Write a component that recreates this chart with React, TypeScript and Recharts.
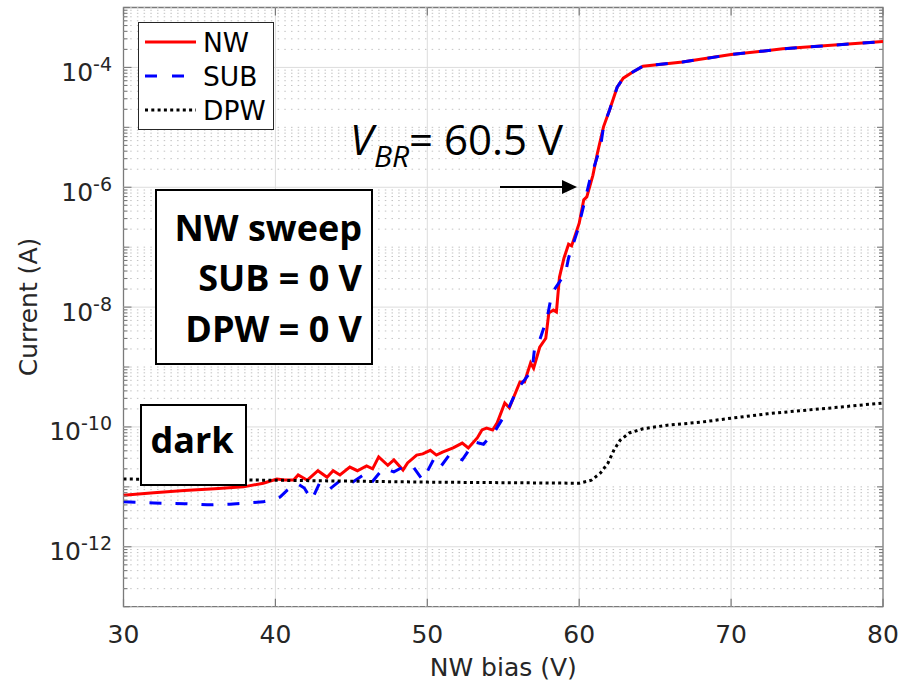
import React from 'react';
import { LineChart, Line, XAxis, YAxis, ReferenceLine, ReferenceArea, Legend } from 'recharts';

// NW sweep, dark current vs NW bias
const nwBias = [30, 32, 34, 36, 37.9, 39.2, 40.1, 40.6, 41.2, 41.5, 42.1, 42.8, 43.4, 43.8, 44.25, 44.9, 45.4, 46.0, 46.4, 46.8, 47.4, 47.8, 48.4, 48.7, 49.3, 49.7, 50.2, 50.6, 51.0, 51.7, 52.3, 52.7, 53.3, 53.6, 53.9, 54.3, 54.6, 55.1, 55.4, 56.1, 56.4, 56.8, 57.0, 57.4, 57.8, 58.0, 58.3, 58.5, 58.7, 59.0, 59.3, 59.5, 60.0, 60.3, 60.5, 60.9, 61.2, 61.6, 62.0, 62.5, 62.9, 63.5, 64.2, 66.8, 70, 73.4, 80];
const nwCurrent = [7.24e-12, 7.94e-12, 8.71e-12, 9.33e-12, 1.0e-11, 1.15e-11, 1.35e-11, 1.3e-11, 1.3e-11, 1.58e-11, 1.29e-11, 1.86e-11, 1.45e-11, 1.86e-11, 1.58e-11, 2.14e-11, 1.86e-11, 2.24e-11, 2.0e-11, 3.16e-11, 2.29e-11, 2.82e-11, 1.91e-11, 2.51e-11, 3.39e-11, 3.55e-11, 4.07e-11, 3.39e-11, 3.8e-11, 4.47e-11, 5.37e-11, 4.47e-11, 6.61e-11, 8.91e-11, 9.55e-11, 8.91e-11, 1.17e-10, 2.51e-10, 2.09e-10, 5.62e-10, 5.62e-10, 1.17e-9, 9.55e-10, 2.14e-9, 3.02e-9, 7.94e-9, 8.91e-9, 8.32e-9, 3.16e-8, 6.61e-8, 1.12e-7, 1.05e-7, 2.51e-7, 6.17e-7, 6.92e-7, 1.58e-6, 3.72e-6, 1.02e-5, 1.95e-5, 4.68e-5, 6.61e-5, 8.32e-5, 1.05e-4, 1.23e-4, 1.64e-4, 2.04e-4, 2.7e-4];

const subBias = [30, 32, 34, 35.5, 37, 38, 39.2, 40.3, 40.8, 41.4, 41.9, 42.4, 42.9, 43.5, 44.3, 44.9, 45.8, 46.3, 47.1, 47.8, 48.4, 49.0, 49.7, 50.4, 50.8, 51.5, 52.3, 53.1, 53.7, 54.5, 55.3, 55.9, 56.9, 57.1, 57.4, 57.9, 58.2, 59.1, 59.3, 59.9, 60.7, 61.4, 61.6, 62.0, 62.5, 62.9, 63.5, 64.2, 66.8, 70, 73.4, 80];
const subCurrent = [5.62e-12, 5.37e-12, 5.25e-12, 5.01e-12, 5.13e-12, 5.37e-12, 5.62e-12, 6.76e-12, 8.91e-12, 1.15e-11, 9.55e-12, 6.03e-12, 1.15e-11, 8.91e-12, 1.29e-11, 1.12e-11, 1.58e-11, 1.15e-11, 2.04e-11, 1.78e-11, 2.14e-11, 2.29e-11, 1.29e-11, 2.82e-11, 2.04e-11, 3.55e-11, 2.82e-11, 5.62e-11, 5.13e-11, 8.91e-11, 1.91e-10, 4.17e-10, 8.91e-10, 2.51e-9, 2.82e-9, 6.76e-9, 1.7e-8, 3.72e-8, 6.61e-8, 1.91e-7, 1.32e-6, 4.68e-6, 1.02e-5, 1.95e-5, 4.68e-5, 6.61e-5, 8.32e-5, 1.05e-4, 1.23e-4, 1.64e-4, 2.04e-4, 2.7e-4];

const dpwBias = [30, 40, 50, 60.0, 60.8, 61.4, 61.9, 62.3, 62.7, 63.3, 64.2, 65.8, 68.0, 70.1, 72.4, 74.5, 76.7, 80];
const dpwCurrent = [1.35e-11, 1.29e-11, 1.2e-11, 1.15e-11, 1.29e-11, 1.7e-11, 2.51e-11, 4.17e-11, 6.03e-11, 7.94e-11, 9.33e-11, 1.07e-10, 1.2e-10, 1.41e-10, 1.66e-10, 1.86e-10, 2.09e-10, 2.51e-10];

const xTicks = [30, 40, 50, 60, 70, 80];
const xGrid = [40, 50, 60, 70];
const decades = [1e-13, 1e-12, 1e-11, 1e-10, 1e-9, 1e-8, 1e-7, 1e-6, 1e-5, 1e-4, 1e-3];
const labelledDecades = [1e-12, 1e-10, 1e-8, 1e-6, 1e-4];
const mantissas = [2, 3, 4, 5, 6, 7, 8, 9];

const minorTicks: number[] = [];
decades.slice(0, -1).forEach((d) => mantissas.forEach((m) => minorTicks.push(m * d)));
const oddDecades = decades.filter((d) => !labelledDecades.includes(d));
const yTicks = [...decades, ...minorTicks].sort((a, b) => a - b);

const zip = (xs: number[], ys: number[]) => xs.map((v, k) => ({ v, i: ys[k] }));
const nwData = zip(nwBias, nwCurrent);
const subData = zip(subBias, subCurrent);
const dpwData = zip(dpwBias, dpwCurrent);

const series = [
  { name: 'NW', data: nwData, color: '#ff0000', dash: undefined as string | undefined },
  { name: 'SUB', data: subData, color: '#0000ff', dash: '12 14' },
  { name: 'DPW', data: dpwData, color: '#000000', dash: '3 3.3' },
];

// plot box (px)
const L = 123.5;
const R = 883;
const T = 7.5;
const B = 606.7;
const FRAME = '#7a7a7a';
const TXT = '#262626';
const AXFONT = '"DejaVu Sans", sans-serif';
const BOXFONT = '"Open Sans", sans-serif';

const isLabelled = (v: number) => labelledDecades.some((d) => Math.abs(d - v) / d < 1e-6);
const isDecade = (v: number) => decades.some((d) => Math.abs(d - v) / d < 1e-6);

function XTick(props: any) {
  const { x, payload } = props;
  return (
    <g>
      <line x1={x} x2={x} y1={B} y2={B - 8} stroke={FRAME} strokeWidth={1.2} />
      <line x1={x} x2={x} y1={T} y2={T + 8} stroke={FRAME} strokeWidth={1.2} />
      <text x={x} y={643} textAnchor="middle" fontSize={25} fill={TXT} fontFamily={AXFONT}>
        {payload.value}
      </text>
    </g>
  );
}

function YTick(props: any) {
  const { y, payload } = props;
  const v = payload.value;
  const major = isLabelled(v);
  const len = major ? 8 : isDecade(v) ? 6 : 4;
  const exp = Math.round(Math.log10(v));
  return (
    <g>
      <line x1={L} x2={L + len} y1={y} y2={y} stroke={FRAME} strokeWidth={1.1} />
      <line x1={R} x2={R - len} y1={y} y2={y} stroke={FRAME} strokeWidth={1.1} />
      {major && (
        <text x={112} y={y + 13.5} textAnchor="end" fontSize={25} fill={TXT} fontFamily={AXFONT}>
          10
          <tspan dy={-10} fontSize={19}>{`-${-exp}`}</tspan>
        </text>
      )}
    </g>
  );
}

function LegendBox() {
  const rows = [20, 54, 88];
  return (
    <svg width={137} height={109} style={{ display: 'block' }}>
      <rect x={0.5} y={0.5} width={135} height={107} fill="#fff" stroke={TXT} strokeWidth={1} />
      {series.map((s, k) => (
        <g key={s.name}>
          <line x1={7} x2={58} y1={rows[k]} y2={rows[k]} stroke={s.color} strokeWidth={3} strokeDasharray={s.name === 'SUB' ? '12 15' : s.dash} />
          <text x={65} y={rows[k] + 10} fontSize={26.5} fill="#000" fontFamily={AXFONT}>
            {s.name}
          </text>
        </g>
      ))}
    </svg>
  );
}

export default function App() {
  return (
    <div style={{ position: 'absolute', left: 0, top: 0, width: 902, height: 684, background: '#fff' }}>
      <LineChart width={902} height={684} margin={{ top: T, right: 902 - R, bottom: 0, left: 0 }}>
        <XAxis
          dataKey="v"
          type="number"
          domain={[30, 80]}
          ticks={xTicks}
          interval={0}
          allowDataOverflow
          height={684 - B}
          axisLine={false}
          tickLine={false}
          tick={<XTick />}
          label={() => (
            <text x={(L + R) / 2} y={676} textAnchor="middle" fontSize={25} fill={TXT} fontFamily={AXFONT}>
              NW bias (V)
            </text>
          )}
        />
        <YAxis
          type="number"
          scale="log"
          domain={[1e-13, 1e-3]}
          allowDataOverflow
          ticks={yTicks}
          interval={0}
          width={L}
          axisLine={false}
          tickLine={false}
          tick={<YTick />}
          label={() => (
            <text transform="translate(37,307) rotate(-90)" textAnchor="middle" fontSize={25} fill={TXT} fontFamily={AXFONT}>
              Current (A)
            </text>
          )}
        />
        {minorTicks.concat(oddDecades).map((v) => (
          <ReferenceLine key={`m${v}`} y={v} stroke="#c2c2c2" strokeWidth={1} strokeDasharray="1.5 5.2" />
        ))}
        {labelledDecades.map((v) => (
          <ReferenceLine key={`d${v}`} y={v} stroke="#dcdcdc" strokeWidth={1} />
        ))}
        {xGrid.map((v) => (
          <ReferenceLine key={`x${v}`} x={v} stroke="#dcdcdc" strokeWidth={1} />
        ))}
        {series.map((s) => (
          <Line
            key={s.name}
            data={s.data}
            dataKey="i"
            name={s.name}
            type="linear"
            stroke={s.color}
            strokeWidth={3}
            strokeDasharray={s.dash}
            dot={false}
            activeDot={false}
            isAnimationActive={false}
          />
        ))}
        <ReferenceArea x1={30} x2={80} y1={1e-13} y2={1e-3} fill="none" stroke={FRAME} strokeWidth={1.3} ifOverflow="visible" />
        <Legend
          layout="vertical"
          align="center"
          verticalAlign="middle"
          content={() => <LegendBox />}
          wrapperStyle={{ left: 138, top: 22, width: 137, height: 109 }}
        />
      </LineChart>
      <svg width={902} height={684} style={{ position: 'absolute', left: 0, top: 0, pointerEvents: 'none' }}>
        <rect x={156} y={190} width={216} height={174} fill="#fff" stroke="#000" strokeWidth={2} />
        <g fontFamily={BOXFONT} fontWeight={700} fontSize={36} fill="#000" textAnchor="end">
          <text x={362} y={241}>NW sweep</text>
          <text x={362} y={291}>SUB = 0 V</text>
          <text x={362} y={342}>DPW = 0 V</text>
        </g>
        <rect x={141} y={405} width={105} height={80} fill="#fff" stroke="#000" strokeWidth={2} />
        <text x={192} y={453} textAnchor="middle" fontFamily={BOXFONT} fontWeight={700} fontSize={36} fill="#000">
          dark
        </text>
        <text fontFamily={BOXFONT} fill="#000" fontSize={42}>
          <tspan x={350} y={155} fontStyle="italic">V</tspan>
          <tspan x={374} y={167} fontStyle="italic" fontSize={30}>BR</tspan>
          <tspan x={409} y={155}>= 60.5 V</tspan>
        </text>
        <line x1={500} x2={565} y1={187} y2={187} stroke="#000" strokeWidth={2} />
        <polygon points="562,180 577,187 562,194" fill="#000" />
      </svg>
    </div>
  );
}
